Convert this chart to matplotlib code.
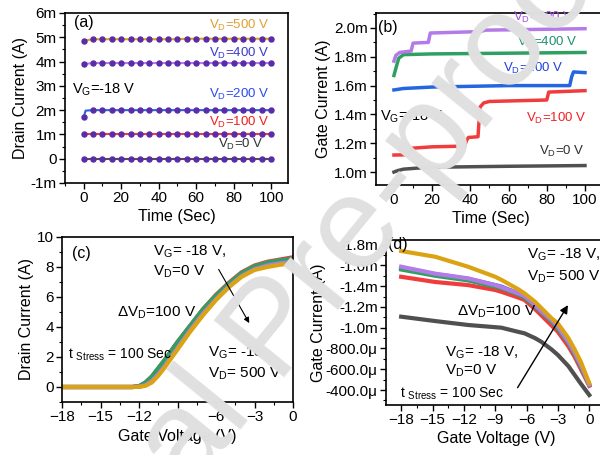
import numpy as np
import matplotlib
matplotlib.use('Agg')
from matplotlib import pyplot as plt
from matplotlib.ticker import MultipleLocator

plt.rcParams['font.family'] = ['Liberation Sans', 'DejaVu Sans']
plt.rcParams['font.size'] = 10
plt.rcParams['mathtext.default'] = 'regular'

# ---- (a) drain current vs time, V_G = -18 V
a_t = [0, 5, 10, 15, 20, 25, 30, 35, 40, 45, 50, 55, 60, 65, 70, 75, 80, 85, 90, 95, 100]
a_0 = [0.0] * 21
a_100 = [1.0] * 21
a_200_t = [0, 1] + a_t[1:]
a_200 = [1.72, 1.98] + [2.0] * 20
a_400 = [3.9] + [3.94] * 20
a_500 = [4.86] + [4.92] * 10 + [4.94] * 10
a_labels = ['V$_D$=500 V', 'V$_D$=400 V', 'V$_D$=200 V', 'V$_D$=100 V', 'V$_D$=0 V']

# ---- (b) gate current vs time (mA)
b_t_500 = [0, 1, 3, 9, 10, 18, 19, 45, 48, 100]
b_i_500 = [1.77, 1.81, 1.83, 1.84, 1.895, 1.90, 1.965, 1.975, 1.985, 1.995]
b_t_400 = [0, 1, 2.5, 5, 20, 60, 100]
b_i_400 = [1.67, 1.72, 1.79, 1.815, 1.82, 1.825, 1.83]
b_t_200 = [0, 5, 20, 40, 60, 92, 93, 94, 100]
b_i_200 = [1.57, 1.58, 1.59, 1.595, 1.60, 1.60, 1.66, 1.695, 1.69]
b_t_100 = [0, 8, 9, 20, 37, 38, 39, 44, 45, 47, 50, 80, 81, 100]
b_i_100 = [1.118, 1.12, 1.165, 1.175, 1.18, 1.22, 1.24, 1.245, 1.45, 1.48, 1.49, 1.50, 1.555, 1.565]
b_t_0 = [0, 2, 5, 15, 30, 60, 100]
b_i_0 = [1.0, 1.01, 1.02, 1.03, 1.035, 1.04, 1.045]

# ---- (c) transfer curves, drain current (A) vs gate voltage
c_vg = [-18, -15, -13, -12.5, -12, -11.5, -11, -10.5, -10, -9, -8, -7, -6, -5, -4, -3, -2, -1, 0]
c_0 = [0, 0, 0, 0, 0.03, 0.2, 0.55, 1.05, 1.6, 2.8, 3.9, 5.0, 5.95, 6.8, 7.5, 7.95, 8.2, 8.38, 8.5]
c_100 = [0, 0, 0, 0, 0.05, 0.3, 0.7, 1.25, 1.8, 3.0, 4.1, 5.2, 6.15, 6.95, 7.65, 8.1, 8.35, 8.5, 8.65]
c_200 = [0, 0, 0, 0, 0.04, 0.25, 0.62, 1.15, 1.7, 2.9, 4.0, 5.1, 6.0, 6.85, 7.55, 8.0, 8.25, 8.42, 8.52]
c_300 = [0, 0, 0, 0, 0.05, 0.3, 0.7, 1.25, 1.8, 3.0, 4.1, 5.2, 6.1, 6.9, 7.6, 8.05, 8.3, 8.45, 8.55]
c_400 = [0, 0, 0, 0, 0.02, 0.12, 0.4, 0.85, 1.4, 2.6, 3.8, 4.9, 5.85, 6.7, 7.4, 7.85, 8.1, 8.25, 8.35]
c_500 = [0, 0, 0, 0, 0.01, 0.08, 0.3, 0.75, 1.3, 2.5, 3.7, 4.8, 5.8, 6.65, 7.35, 7.8, 8.0, 8.15, 8.25]

# ---- (d) gate current (mA, negative) vs gate voltage
d_vg = [-18, -14.75, -11.6, -9, -8.4, -6.8, -6.2, -5.2, -4.6, -3.6, -3.0, -2.0, -1.4, -0.8, 0]
d_0 = [-1.106, -1.064, -1.026, -1.005, -1.0, -0.96, -0.946, -0.9, -0.865, -0.79, -0.737, -0.63, -0.545, -0.46, -0.352]
d_100 = [-1.49, -1.44, -1.41, -1.363, -1.345, -1.29, -1.267, -1.18, -1.12, -1.02, -0.96, -0.82, -0.72, -0.6, -0.44]
d_200 = [-1.575, -1.515, -1.47, -1.41, -1.395, -1.33, -1.30, -1.22, -1.16, -1.07, -1.0, -0.86, -0.75, -0.63, -0.45]
d_300 = [-1.56, -1.50, -1.455, -1.395, -1.38, -1.32, -1.29, -1.21, -1.15, -1.06, -0.99, -0.855, -0.745, -0.625, -0.45]
d_400 = [-1.587, -1.52, -1.475, -1.41, -1.39, -1.33, -1.305, -1.22, -1.16, -1.074, -1.01, -0.865, -0.76, -0.64, -0.45]
d_500 = [-1.738, -1.683, -1.587, -1.49, -1.46, -1.37, -1.33, -1.25, -1.19, -1.09, -1.04, -0.9, -0.79, -0.67, -0.465]

gray, red, blue, green, purple, gold = '#505050', '#f03c3c', '#2466e0', '#2fa062', '#b47ae8', '#dba312'
dot = '#5a2ca8'

fig = plt.figure(figsize=(6, 4.55), dpi=100)
W, H = 600, 455


def box(l, t, r, b):
    return [l / W, 1 - b / H, (r - l) / W, (b - t) / H]


def style(ax, size=11):
    for s in ax.spines.values():
        s.set_linewidth(1.2)
    ax.tick_params(which='major', direction='out', length=4, width=1, labelsize=size, pad=2)
    ax.tick_params(which='minor', direction='out', length=2, width=0.8)


# (a)
ax = fig.add_axes(box(65, 13, 288, 183))
ax.plot(a_t, a_0, color=gray, lw=1.5, marker='o', ms=3.6, mfc=dot, mec=dot)
ax.plot(a_t, a_100, color=red, lw=1.5, marker='o', ms=3.6, mfc=dot, mec=dot)
ax.plot(a_200_t, a_200, color=blue, lw=1.5, marker='o', ms=3.6, mfc=dot, mec=dot,
        markevery=[0] + list(range(2, len(a_200_t))))
ax.plot(a_t, a_400, color=purple, lw=1.5, marker='o', ms=3.6, mfc=dot, mec=dot)
ax.plot(a_t, a_500, color=gold, lw=1.5, marker='o', ms=3.6, mfc=dot, mec=dot)
ax.set_xlim(-10, 109)
ax.set_ylim(-1, 6)
ax.set_xticks([0, 20, 40, 60, 80, 100])
ax.set_yticks([-1, 0, 1, 2, 3, 4, 5, 6])
ax.set_yticklabels(['-1m', '0', '1m', '2m', '3m', '4m', '5m', '6m'])
ax.xaxis.set_minor_locator(MultipleLocator(10))
ax.yaxis.set_minor_locator(MultipleLocator(0.5))
style(ax)
ax.set_xlabel('Time (Sec)', fontsize=11.5, labelpad=3)
ax.set_ylabel('Drain Current (A)', fontsize=11.5, labelpad=2)
ax.text(-5, 5.42, '(a)', fontsize=11.5)
ax.text(83, 5.5, a_labels[0], color='#e0a030', ha='center', va='center', fontsize=9.5)
ax.text(83, 4.35, a_labels[1], color='#3a3acc', ha='center', va='center', fontsize=9.5)
ax.text(-6.5, 2.83, 'V$_G$=-18 V', color='black', ha='left', va='center', fontsize=10.5)
ax.text(83, 2.63, a_labels[2], color='#2a4af0', ha='center', va='center', fontsize=9.5)
ax.text(83, 1.5, a_labels[3], color='#f02020', ha='center', va='center', fontsize=9.5)
ax.text(84, 0.57, a_labels[4], color='#303030', ha='center', va='center', fontsize=9.5)

# (b)
ax = fig.add_axes(box(376, 13, 606, 185))
ax.plot(b_t_0, b_i_0, color=gray, lw=2.5)
ax.plot(b_t_100, b_i_100, color=red, lw=2.5)
ax.plot(b_t_200, b_i_200, color=blue, lw=2.5)
ax.plot(b_t_400, b_i_400, color=green, lw=2.5)
ax.plot(b_t_500, b_i_500, color=purple, lw=2.5)
ax.set_xlim(-9.4, 111)
ax.set_ylim(0.91, 2.104)
ax.set_xticks([0, 20, 40, 60, 80, 100])
ax.set_yticks([1.0, 1.2, 1.4, 1.6, 1.8, 2.0])
ax.set_yticklabels(['1.0m', '1.2m', '1.4m', '1.6m', '1.8m', '2.0m'])
ax.xaxis.set_minor_locator(MultipleLocator(10))
ax.yaxis.set_minor_locator(MultipleLocator(0.1))
style(ax)
ax.set_xlabel('Time (Sec)', fontsize=11.5, labelpad=3)
ax.set_ylabel('Gate Current (A)', fontsize=11.5, labelpad=2)
ax.text(-8.5, 2.0, '(b)', fontsize=11.5, va='center')
ax.text(78, 2.07, 'V$_D$=500 V', color='#a050e0', ha='center', va='center', fontsize=9.5)
ax.text(80, 1.9, 'V$_D$=400 V', color='#209070', ha='center', va='center', fontsize=9.5)
ax.text(73, 1.72, 'V$_D$=200 V', color='#2040e0', ha='center', va='center', fontsize=9.5)
ax.text(85, 1.375, 'V$_D$=100 V', color='#f02020', ha='center', va='center', fontsize=9.5)
ax.text(88, 1.14, 'V$_D$=0 V', color='#303030', ha='center', va='center', fontsize=9.5)
ax.text(-7.3, 1.38, 'V$_G$=-18 V', color='black', ha='left', va='center', fontsize=10.5)

# (c)
ax = fig.add_axes(box(62, 237, 293, 402))
for y, c in [(c_0, gray), (c_100, red), (c_200, blue), (c_300, green), (c_400, purple), (c_500, gold)]:
    ax.plot(c_vg, y, color=c, lw=3)
ax.set_xlim(-18, 0)
ax.set_ylim(-1, 10)
ax.set_xticks([-18, -15, -12, -9, -6, -3, 0])
ax.set_yticks([0, 2, 4, 6, 8, 10])
ax.xaxis.set_minor_locator(MultipleLocator(1.5))
ax.yaxis.set_minor_locator(MultipleLocator(1))
style(ax)
ax.set_xlabel('Gate Voltage (V)', fontsize=11.5, labelpad=3)
ax.set_ylabel('Drain Current (A)', fontsize=11.5, labelpad=2)
ax.text(-17.2, 8.9, '(c)', fontsize=11.5, va='center')
ax.text(-10.9, 9.0, 'V$_G$= -18 V,', fontsize=11, va='center')
ax.text(-10.9, 7.7, 'V$_D$=0 V', fontsize=11, va='center')
ax.text(-13.7, 4.95, '$\\Delta$V$_D$=100 V', fontsize=11, va='center')
ax.text(-17.5, 2.13, 't $_{Stress}$ = 100 Sec', fontsize=10, va='center')
ax.text(-6.6, 2.3, 'V$_G$= -18', fontsize=11, va='center')
ax.text(-6.6, 0.9, 'V$_D$= 500 V', fontsize=11, va='center')
ax.annotate('', xy=(-3.3, 4.1), xytext=(-5.9, 8.0),
            arrowprops=dict(arrowstyle='-|>', color='black', lw=0.8, mutation_scale=8))

# (d)
ax = fig.add_axes(box(386, 240, 606, 405))
for y, c in [(d_0, gray), (d_100, red), (d_200, blue), (d_300, green), (d_400, purple), (d_500, gold)]:
    ax.plot(d_vg, y, color=c, lw=3)
ax.set_xlim(-19.45, 1.6)
ax.set_ylim(-0.256, -1.844)
ax.set_xticks([-18, -15, -12, -9, -6, -3, 0])
ax.set_yticks([-1.8, -1.6, -1.4, -1.2, -1.0, -0.8, -0.6, -0.4])
ax.set_yticklabels(['-1.8m', '-1.6m', '-1.4m', '-1.2m', '-1.0m', '-800.0\u03bc', '-600.0\u03bc', '-400.0\u03bc'])
ax.xaxis.set_minor_locator(MultipleLocator(1.5))
ax.yaxis.set_minor_locator(MultipleLocator(0.1))
style(ax)
ax.set_xlabel('Gate Voltage (V)', fontsize=11.5, labelpad=3)
ax.set_ylabel('Gate Current (A)', fontsize=11.5, labelpad=0)
ax.text(-19.3, -1.80, '(d)', fontsize=11.5, va='center')
ax.text(-6.0, -1.70, 'V$_G$= -18 V,', fontsize=11, va='center')
ax.text(-6.0, -1.49, 'V$_D$= 500 V', fontsize=11, va='center')
ax.text(-12.7, -1.154, '$\\Delta$V$_D$=100 V', fontsize=11, va='center')
ax.text(-13.8, -0.756, 'V$_G$= -18 V,', fontsize=11, va='center')
ax.text(-13.8, -0.583, 'V$_D$=0 V', fontsize=11, va='center')
ax.text(-18.1, -0.36, 't $_{Stress}$ = 100 Sec', fontsize=10, va='center')
ax.annotate('', xy=(-1.9, -1.24), xytext=(-7.0, -0.4),
            arrowprops=dict(arrowstyle='-|>', color='black', lw=1.0, mutation_scale=12))

# watermark
fig.text(0.46, 0.27, 'Journal Pre-proof', rotation=51, fontsize=95, color='#e0e0e0',
         ha='center', va='center', rotation_mode='anchor', zorder=10)

fig.savefig('out.png', dpi=100)
